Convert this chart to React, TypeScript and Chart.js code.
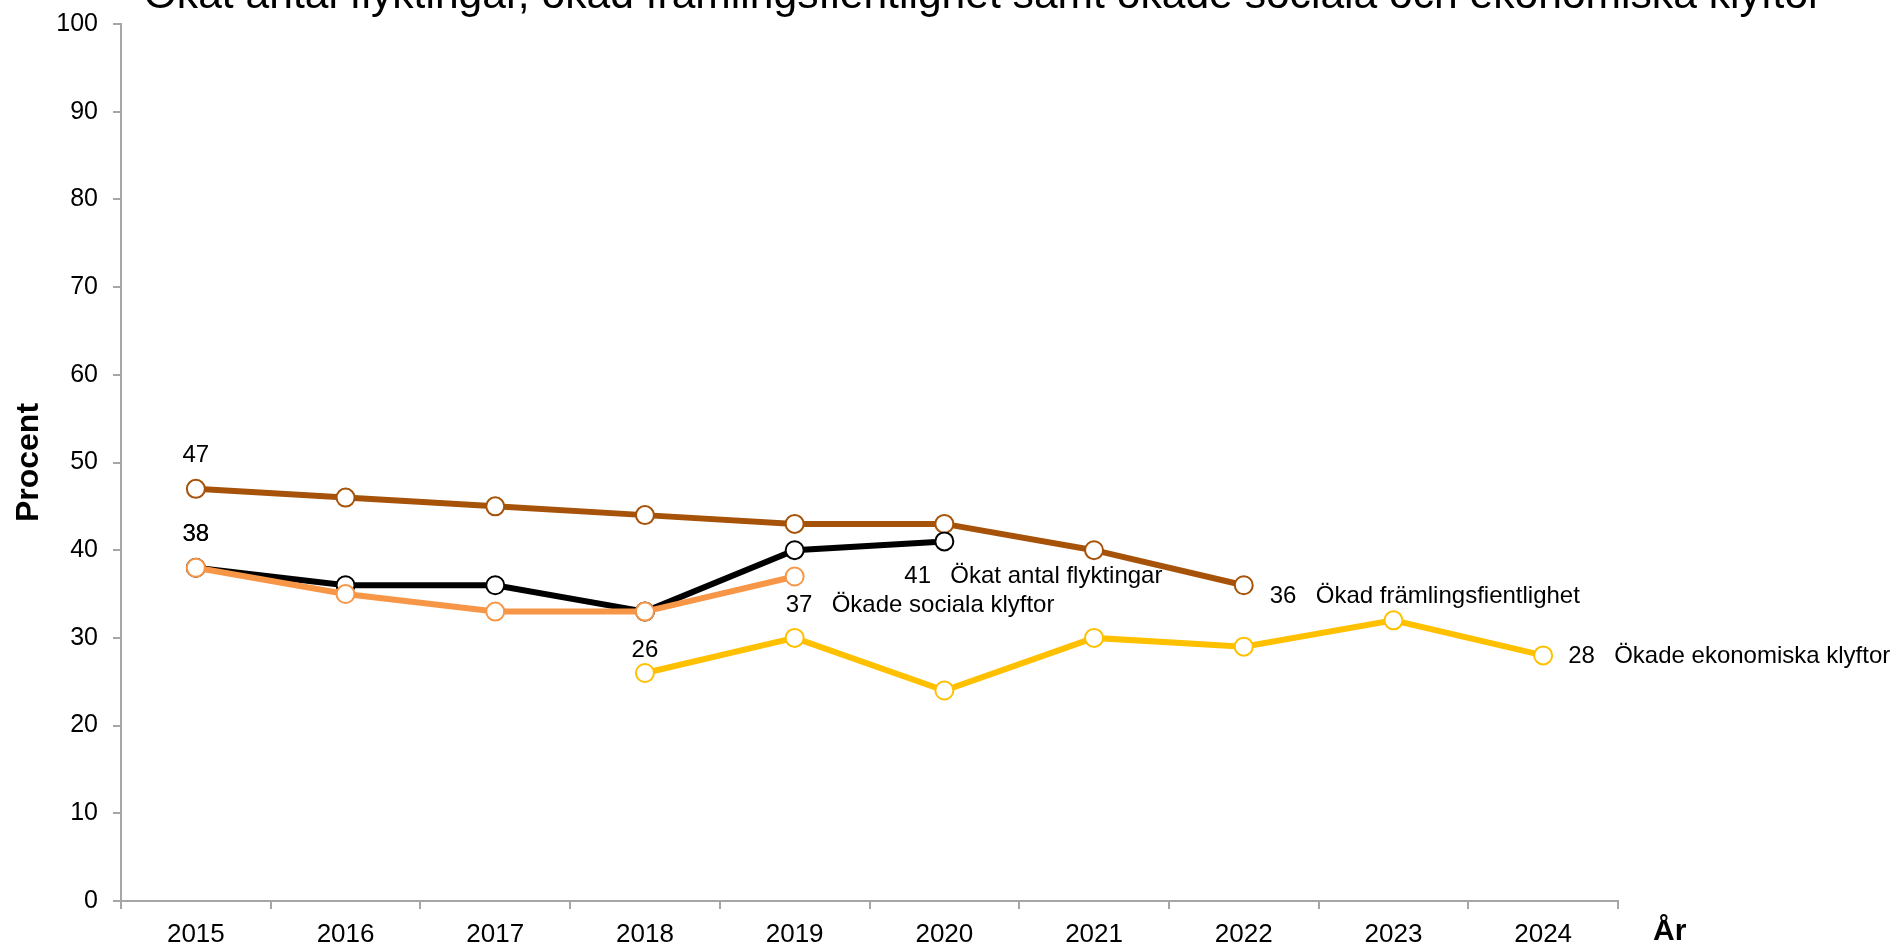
import React, { useEffect, useRef } from 'react';
import { Chart, registerables } from 'chart.js';

Chart.register(...registerables);

const FONT = "'Liberation Sans', Arial, sans-serif";

const TITLE = 'Ökat antal flyktingar, ökad främlingsfientlighet samt ökade sociala och ekonomiska klyftor';
const Y_TITLE = 'Procent';
const X_TITLE = 'År';

const YEARS = ['2015', '2016', '2017', '2018', '2019', '2020', '2021', '2022', '2023', '2024'];

const FLYKTINGAR = [38, 36, 36, 33, 40, 41, null, null, null, null];
const FRAMLINGSFIENTLIGHET = [47, 46, 45, 44, 43, 43, 40, 36, null, null];
const SOCIALA = [38, 35, 33, 33, 37, null, null, null, null, null];
const EKONOMISKA = [null, null, null, 26, 30, 24, 30, 29, 32, 28];

const NAME_FLYKTINGAR = 'Ökat antal flyktingar';
const NAME_FRAMLING = 'Ökad främlingsfientlighet';
const NAME_SOCIALA = 'Ökade sociala klyftor';
const NAME_EKONOMISKA = 'Ökade ekonomiska klyftor';

const AXIS_GREY = '#A6A6A6';

const firstIndex = (arr: (number | null)[]) => arr.findIndex((v) => v != null);
const lastIndex = (arr: (number | null)[]) => {
  for (let i = arr.length - 1; i >= 0; i--) if (arr[i] != null) return i;
  return -1;
};

const labelPlugin = {
  id: 'seriesLabels',
  afterDatasetsDraw(chart: any, _args: any, opts: any) {
    const ctx = chart.ctx;
    ctx.save();
    ctx.fillStyle = '#000';
    ctx.font = `24px ${FONT}`;
    ctx.textBaseline = 'middle';
    (opts.items || []).forEach((it: any) => {
      const ds = chart.data.datasets[it.dataset];
      const data = ds.data as (number | null)[];
      const idx = it.at === 'first' ? firstIndex(data) : lastIndex(data);
      if (idx < 0) return;
      const pt = chart.getDatasetMeta(it.dataset).data[idx];
      const value = String(data[idx]);
      if (it.at === 'first') {
        ctx.textAlign = 'center';
        ctx.fillText(value, pt.x, pt.y - it.up);
      } else {
        ctx.textAlign = 'left';
        ctx.fillText(value, pt.x + it.dx, pt.y + it.dy);
        ctx.fillText(ds.label, pt.x + it.dx + 46, pt.y + it.dy);
      }
    });
    ctx.restore();
  },
};

const textPlugin = {
  id: 'extraText',
  afterDraw(chart: any) {
    const ctx = chart.ctx;
    ctx.save();
    ctx.fillStyle = '#000';
    ctx.textBaseline = 'alphabetic';
    ctx.textAlign = 'center';
    ctx.font = `42.6px ${FONT}`;
    ctx.fillText(TITLE, 983, 8);
    ctx.textAlign = 'left';
    ctx.font = `bold 30px ${FONT}`;
    ctx.fillText(X_TITLE, chart.chartArea.right + 35, chart.height - 4);
    ctx.restore();
  },
};

function makeDataset(label: string, data: (number | null)[], color: string) {
  return {
    label,
    data,
    borderColor: color,
    backgroundColor: color,
    borderWidth: 6,
    pointRadius: 9,
    pointBorderWidth: 2,
    pointBackgroundColor: '#FFFFFF',
    pointBorderColor: color,
    tension: 0,
    spanGaps: false,
  };
}

export default function App() {
  const ref = useRef<HTMLCanvasElement | null>(null);

  useEffect(() => {
    if (!ref.current) return;
    const chart = new Chart(ref.current, {
      type: 'line',
      data: {
        labels: YEARS,
        datasets: [
          makeDataset(NAME_SOCIALA, SOCIALA, '#F79646'),
          makeDataset(NAME_FLYKTINGAR, FLYKTINGAR, '#000000'),
          makeDataset(NAME_FRAMLING, FRAMLINGSFIENTLIGHET, '#A65208'),
          makeDataset(NAME_EKONOMISKA, EKONOMISKA, '#FFC000'),
        ],
      },
      options: {
        responsive: false,
        animation: false,
        layout: { padding: { left: 0, right: 278, top: 24, bottom: 0 } },
        plugins: {
          legend: { display: false },
          tooltip: { enabled: false },
          title: { display: false },
          seriesLabels: {
            items: [
              { dataset: 2, at: 'first', up: 33 },
              { dataset: 1, at: 'first', up: 33 },
              { dataset: 0, at: 'first', up: 33 },
              { dataset: 3, at: 'first', up: 23 },
              { dataset: 1, at: 'last', dx: -40, dy: 35 },
              { dataset: 0, at: 'last', dx: -9, dy: 29 },
              { dataset: 2, at: 'last', dx: 26, dy: 11 },
              { dataset: 3, at: 'last', dx: 25, dy: 1 },
            ],
          },
        } as any,
        scales: {
          x: {
            type: 'category',
            offset: true,
            grid: {
              offset: true,
              drawOnChartArea: false,
              drawTicks: true,
              tickLength: 8,
              color: AXIS_GREY,
              lineWidth: 2,
            },
            border: { display: true, color: AXIS_GREY, width: 2 },
            ticks: {
              color: '#000',
              font: { size: 26, family: FONT },
              padding: 10,
              maxRotation: 0,
              autoSkip: false,
            },
            afterFit: (s: any) => {
              s.height = 43;
            },
          },
          y: {
            min: 0,
            max: 100,
            ticks: {
              stepSize: 10,
              color: '#000',
              font: { size: 25, family: FONT },
              padding: 15,
            },
            grid: {
              drawOnChartArea: false,
              drawTicks: true,
              tickLength: 8,
              color: AXIS_GREY,
              lineWidth: 2,
            },
            border: { display: true, color: AXIS_GREY, width: 2 },
            title: {
              display: true,
              text: Y_TITLE,
              color: '#000',
              font: { size: 32, weight: 'bold', family: FONT },
              padding: { top: 10, bottom: 0 },
            },
            afterFit: (s: any) => {
              s.width = 121;
              s.paddingTop = 0;
              s.paddingBottom = 0;
            },
          },
        },
      },
      plugins: [labelPlugin, textPlugin],
    });
    return () => chart.destroy();
  }, []);

  return (
    <div style={{ position: 'fixed', left: 0, top: 0, width: 1896, height: 944, background: '#fff' }}>
      <canvas ref={ref} width={1896} height={944} style={{ display: 'block' }} />
    </div>
  );
}
